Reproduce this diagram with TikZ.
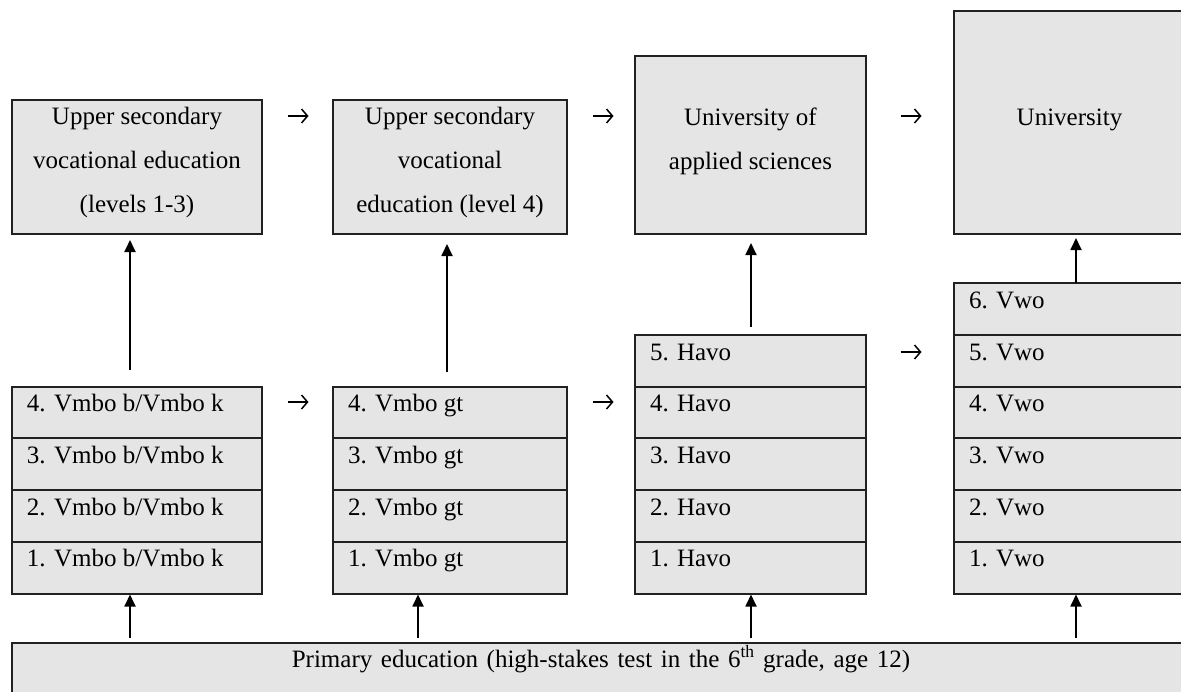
\documentclass[tikz,border=0pt]{standalone}
\usepackage{fontspec}
\setmainfont{Liberation Serif}
\usetikzlibrary{arrows.meta,calc}
\definecolor{boxfill}{gray}{0.9}
\definecolor{boxline}{gray}{0.13}
\newcommand\uptext[4]{\parbox[c][#2pt][t]{#1pt}{\centering\rule{0pt}{#3pt}#4\par}}
\newcommand\rowtext[3]{\parbox[c][#2pt][t]{#1pt}{\hspace*{15pt}\rule{0pt}{25pt}#3\par}}
\begin{document}
\begin{tikzpicture}[x=1pt,y=-1pt,
  every node/.style={font=\fontsize{25}{44}\selectfont},
  cell/.style={draw=boxline,fill=boxfill,line width=2pt,inner sep=0pt,outer sep=0pt,anchor=north west},
  varr/.style={line width=1.8pt,-{Triangle[length=12pt,width=11pt]}},
  harr/.style={line width=1.5pt,-{Straight Barb[length=6pt,width=14pt]}}]
\useasboundingbox (0,0) rectangle (1181,691);
\clip (0,0) rectangle (1181,691);
% upper boxes
\node[cell] (b1) at (12,100) {\uptext{250}{134}{24}{Upper secondary\\vocational education\\(levels 1-3)}};
\node[cell] (b2) at (333,100) {\uptext{234}{134}{24}{Upper secondary\\vocational\\education (level 4)}};
\node[cell] (b3) at (635,56) {\uptext{231}{178}{69}{University of\\applied sciences}};
\node[cell] (b4) at (954,11) {\uptext{231}{223}{114}{University}};
% lower columns
\foreach \i/\t in {1/541.8,2/490.1,3/438.4,4/386.7}
  \node[cell] (v\i) at (12,\t) {\rowtext{250}{51.7}{\i. Vmbo b/Vmbo k}};
\foreach \i/\t in {1/541.8,2/490.1,3/438.4,4/386.7}
  \node[cell] (g\i) at (333,\t) {\rowtext{234}{51.7}{\i. Vmbo gt}};
\foreach \i/\t in {1/541.8,2/490.1,3/438.4,4/386.7,5/335}
  \node[cell] (h\i) at (635,\t) {\rowtext{231}{51.7}{\i. Havo}};
\foreach \i/\t in {1/541.8,2/490.1,3/438.4,4/386.7,5/335,6/283.3}
  \node[cell] (w\i) at (954,\t) {\rowtext{231}{51.7}{\i. Vwo}};
% primary
\node[cell] (p) at (12,643) {\uptext{1178}{60}{24}{\spaceskip=8.6pt Primary education (high-stakes test in the 6\textsuperscript{th} grade, age 12)}};
% vertical arrows: lower to upper
\draw[varr,shorten >=6pt] ([xshift=-7pt,yshift=16.7pt]v4.north) -- ([xshift=-7pt]b1.south);
\draw[varr,shorten >=10pt] ([xshift=-3pt,yshift=14.7pt]g4.north) -- ([xshift=-3pt]b2.south);
\draw[varr,shorten >=9pt] ([xshift=0.5pt,yshift=8pt]h5.north) -- ([xshift=0.5pt]b3.south);
\draw[varr,shorten >=4pt] ([xshift=6.5pt]w6.north) -- ([xshift=6.5pt]b4.south);
% vertical arrows: primary to columns
\draw[varr,shorten <=5pt,shorten >=1pt] ([xshift=-7pt]v1.south |- p.north) -- ([xshift=-7pt]v1.south);
\draw[varr,shorten <=5pt,shorten >=1pt] ([xshift=-32pt]g1.south |- p.north) -- ([xshift=-32pt]g1.south);
\draw[varr,shorten <=5pt,shorten >=1pt] ([xshift=0.5pt]h1.south |- p.north) -- ([xshift=0.5pt]h1.south);
\draw[varr,shorten <=5pt,shorten >=1pt] ([xshift=6.5pt]w1.south |- p.north) -- ([xshift=6.5pt]w1.south);
% horizontal small arrows
\draw[harr] ([shift={(25.5,16)}]b1.north east) -- ++(21,0);
\draw[harr] ([shift={(25.5,16)}]b2.north east) -- ++(21,0);
\draw[harr] ([shift={(34.5,60)}]b3.north east) -- ++(21,0);
\draw[harr] ([shift={(25.5,15.3)}]v4.north east) -- ++(21,0);
\draw[harr] ([shift={(25.5,15.3)}]g4.north east) -- ++(21,0);
\draw[harr] ([shift={(34.5,17)}]h5.north east) -- ++(21,0);
\end{tikzpicture}
\end{document}
